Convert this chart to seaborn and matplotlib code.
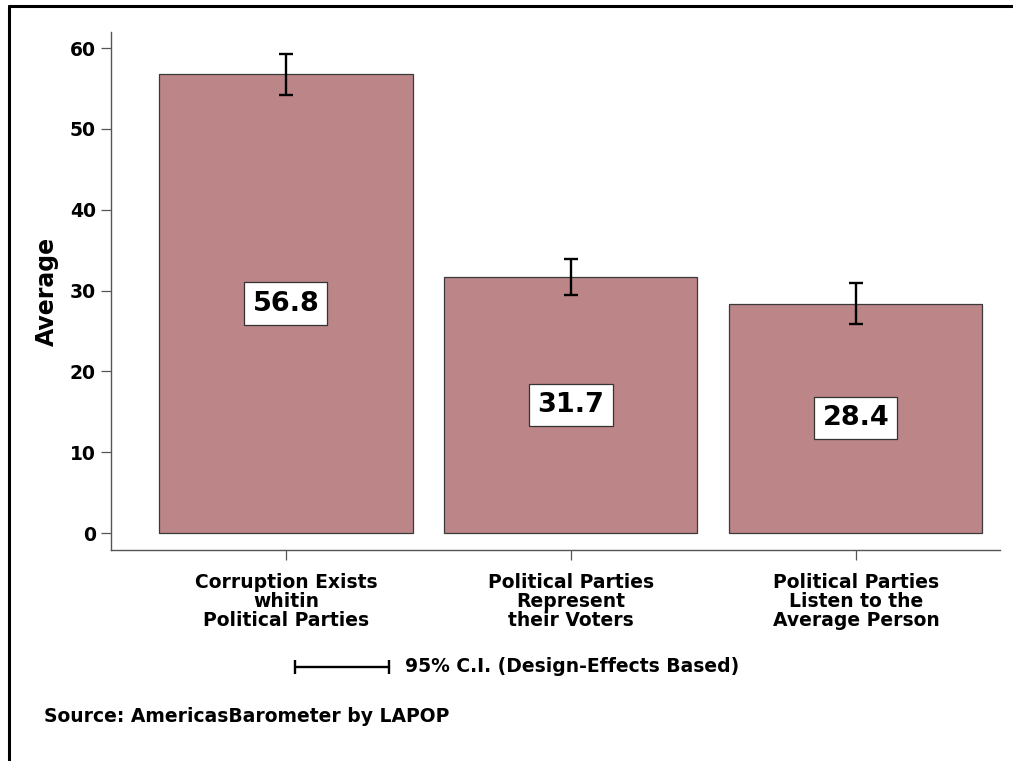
import matplotlib
matplotlib.use("Agg")
import matplotlib.pyplot as plt
from matplotlib.lines import Line2D
import seaborn as sns
import pandas as pd

# Survey items and their averages (0-100 scale)
categories = [
    "Corruption Exists\nwhitin\nPolitical Parties",
    "Political Parties\nRepresent\ntheir Voters",
    "Political Parties\nListen to the\nAverage Person",
]
averages = [56.8, 31.7, 28.4]
ci_low = [54.2, 29.4, 25.9]
ci_high = [59.3, 33.9, 30.9]
y_ticks = [0, 10, 20, 30, 40, 50, 60]

sns.set_theme(style="white")
plt.rcParams["font.family"] = ["DejaVu Sans"]
plt.rcParams["font.weight"] = "bold"
plt.rcParams["text.color"] = "black"
plt.rcParams["axes.labelcolor"] = "black"
plt.rcParams["xtick.labelcolor"] = "black"
plt.rcParams["ytick.labelcolor"] = "black"

fig = plt.figure(figsize=(10.13, 7.61), dpi=100)
ax = fig.add_axes([0.1096, 0.2773, 0.8774, 0.6806])

df = pd.DataFrame({"item": categories, "avg": averages})
sns.barplot(data=df, x="item", y="avg", color="#BC8587", saturation=1,
            width=0.888, edgecolor="#3a3a3a", linewidth=0.9, errorbar=None, ax=ax)

xs = range(len(categories))
yerr = [[a - l for a, l in zip(averages, ci_low)],
        [h - a for a, h in zip(averages, ci_high)]]
ax.errorbar(list(xs), averages, yerr=yerr, fmt="none", ecolor="black",
            elinewidth=1.7, capsize=4.8, capthick=1.7, zorder=5)

# value labels in boxes at half bar height
for x, v in zip(xs, averages):
    ax.text(x, v / 2, f"{v:.1f}", ha="center", va="center", fontsize=19.5,
            fontweight="bold", color="black", zorder=6,
            bbox=dict(boxstyle="square,pad=0.3", facecolor="white",
                      edgecolor="#333333", linewidth=0.9))

ax.set_xlim(-0.614, 2.505)
ax.set_ylim(-2.1, 62)
ax.set_yticks(y_ticks)
ax.set_yticklabels([str(t) for t in y_ticks])
ax.set_xlabel("")
ax.set_ylabel("Average", fontsize=17, fontweight="bold", labelpad=8,
              color="black")

for side in ["top", "right"]:
    ax.spines[side].set_visible(False)
for side in ["left", "bottom"]:
    ax.spines[side].set_color("#555555")
    ax.spines[side].set_linewidth(1.0)

ax.tick_params(axis="y", which="major", direction="out", length=7.5, width=0.9,
               color="#555555", labelcolor="black", pad=3.5, labelsize=13.5,
               left=True)
ax.tick_params(axis="x", which="major", direction="out", length=7.5, width=0.9,
               color="#555555", labelcolor="black", pad=9, labelsize=13.5,
               bottom=True)
for lbl in ax.get_xticklabels() + ax.get_yticklabels():
    lbl.set_fontweight("bold")
for lbl in ax.get_xticklabels():
    lbl.set_linespacing(1.0)
    lbl.set_multialignment("center")

# confidence-interval key below the axis
W, H = 1013, 761
ky = 1 - 667 / H
fig.add_artist(Line2D([295 / W, 389 / W], [ky, ky], transform=fig.transFigure,
                      color="black", linewidth=1.7))
fig.add_artist(Line2D([295 / W, 389 / W], [ky, ky], transform=fig.transFigure,
                      color="black", linestyle="none", marker="|",
                      markersize=10, markeredgewidth=1.7))
fig.text(405 / W, ky, "95% C.I. (Design-Effects Based)", ha="left", va="center",
         fontsize=13.5, fontweight="bold", color="black")

fig.text(44 / W, 1 - 717 / H, "Source: AmericasBarometer by LAPOP", ha="left",
         va="center", fontsize=13.5, fontweight="bold", color="black")

# outer frame lines (top and left)
fig.add_artist(Line2D([8.5 / W, 1.0], [1 - 5.5 / H, 1 - 5.5 / H],
                      transform=fig.transFigure, color="black", linewidth=2.2))
fig.add_artist(Line2D([8.5 / W, 8.5 / W], [0.0, 1 - 5.5 / H],
                      transform=fig.transFigure, color="black", linewidth=2.2))

fig.savefig("out.png", dpi=100, facecolor="white")
